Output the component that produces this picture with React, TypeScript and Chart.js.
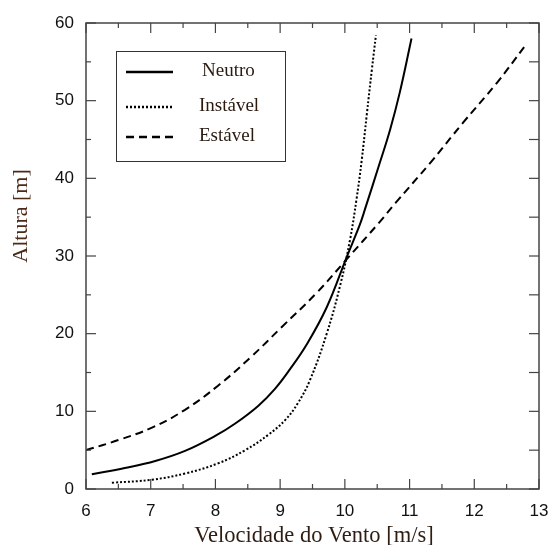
import React, { useEffect, useRef } from 'react';
import { Chart, registerables } from 'chart.js';

Chart.register(...registerables);

// ---- data ----
const seriesNames = ['Neutro', 'Instável', 'Estável'];

const neutroX = [6.09, 6.6, 7.07, 7.53, 7.99, 8.3, 8.66, 8.92, 9.15, 9.41, 9.72, 10.03, 10.23, 10.31, 10.54, 10.7, 10.85, 11.03];
const neutroY = [1.9, 2.7, 3.6, 4.9, 6.8, 8.4, 10.7, 12.9, 15.4, 18.6, 23.4, 29.9, 34.0, 36.0, 42.0, 46.3, 51.1, 58.0];

const instavelX = [6.4, 7.02, 7.53, 8.04, 8.46, 8.82, 9.08, 9.27, 9.46, 9.72, 9.93, 10.08, 10.18, 10.26, 10.34, 10.42, 10.48];
const instavelY = [0.8, 1.2, 2.0, 3.3, 5.0, 7.0, 8.9, 11.0, 14.0, 20.0, 26.3, 32.1, 37.3, 42.3, 48.3, 54.2, 58.4];

const estavelX = [6.0, 6.5, 7.02, 7.53, 8.04, 8.55, 9.03, 9.57, 10.03, 10.54, 10.78, 11.32, 11.83, 12.35, 12.77];
const estavelY = [5.0, 6.3, 7.9, 10.2, 13.3, 17.0, 20.9, 25.3, 29.6, 34.4, 36.8, 42.0, 47.2, 52.3, 56.9];

const xRange = [6, 13];
const yRange = [0, 60];
const xTitle = 'Velocidade do Vento [m/s]';
const yTitle = 'Altura [m]';

const toPts = (xs: number[], ys: number[]) => xs.map((v, i) => ({ x: v, y: ys[i] }));

const frameTicks = {
  id: 'frameTicks',
  afterDatasetsDraw(chart: any) {
    const { ctx, chartArea: a, scales } = chart;
    const x = scales.x;
    const y = scales.y;
    ctx.save();
    ctx.strokeStyle = '#444';
    ctx.lineWidth = 1.5;
    ctx.strokeRect(a.left, a.top, a.right - a.left, a.bottom - a.top);
    ctx.lineWidth = 1.2;
    const line = (x1: number, y1: number, x2: number, y2: number) => {
      ctx.beginPath();
      ctx.moveTo(x1, y1);
      ctx.lineTo(x2, y2);
      ctx.stroke();
    };
    for (let v = xRange[0]; v <= xRange[1] + 1e-9; v += 0.5) {
      const px = x.getPixelForValue(v);
      const major = Math.abs(v - Math.round(v)) < 1e-9;
      const len = major ? 10 : 5;
      line(px, a.bottom, px, a.bottom - len);
      line(px, a.top, px, a.top + len);
    }
    for (let v = yRange[0]; v <= yRange[1] + 1e-9; v += 5) {
      const py = y.getPixelForValue(v);
      const major = v % 10 === 0;
      line(a.left, py, a.left + (major ? 10 : 5), py);
      line(a.right, py, a.right - 10, py);
    }
    // axis titles
    ctx.fillStyle = '#2e1d12';
    ctx.font = '22.5px "Liberation Serif", "Times New Roman", serif';
    ctx.textAlign = 'center';
    ctx.textBaseline = 'alphabetic';
    ctx.fillText(xTitle, 314, 542);
    ctx.save();
    ctx.translate(27, 216);
    ctx.rotate(-Math.PI / 2);
    ctx.fillStyle = '#4b2a17';
    ctx.font = '22px "Liberation Serif", "Times New Roman", serif';
    ctx.fillText(yTitle, 0, 0);
    ctx.restore();
    ctx.restore();
  },
};

const boxLegend = {
  id: 'boxLegend',
  afterDatasetsDraw(chart: any) {
    const { ctx } = chart;
    ctx.save();
    ctx.fillStyle = '#fff';
    ctx.fillRect(116.5, 51.5, 169, 110);
    ctx.strokeStyle = '#333';
    ctx.lineWidth = 1;
    ctx.strokeRect(116.5, 51.5, 169, 110);
    const rows = [72, 107, 137];
    const textX = [202, 199, 199];
    chart.data.datasets.forEach((ds: any, i: number) => {
      const yy = rows[i];
      ctx.beginPath();
      ctx.strokeStyle = '#000';
      ctx.lineWidth = ds.borderWidth + 0.5;
      ctx.setLineDash(ds.borderDash || []);
      ctx.moveTo(126, yy);
      ctx.lineTo(173, yy);
      ctx.stroke();
      ctx.setLineDash([]);
      ctx.fillStyle = '#2a1a10';
      ctx.font = '19px "Liberation Serif", "Times New Roman", serif';
      ctx.textAlign = 'left';
      ctx.textBaseline = 'middle';
      ctx.fillText(ds.label, textX[i], yy - 1);
    });
    ctx.restore();
  },
};

export default function App() {
  const ref = useRef<HTMLCanvasElement | null>(null);
  useEffect(() => {
    document.body.style.margin = '0';
    const canvas = ref.current;
    if (!canvas) return;
    const chart = new Chart(canvas, {
      type: 'scatter',
      data: {
        datasets: [
          {
            label: seriesNames[0],
            data: toPts(neutroX, neutroY),
            showLine: true,
            borderColor: '#000',
            borderWidth: 2,
            pointRadius: 0,
            tension: 0.4,
          },
          {
            label: seriesNames[1],
            data: toPts(instavelX, instavelY),
            showLine: true,
            borderColor: '#000',
            borderWidth: 2,
            borderDash: [2, 2],
            pointRadius: 0,
            tension: 0.4,
          },
          {
            label: seriesNames[2],
            data: toPts(estavelX, estavelY),
            showLine: true,
            borderColor: '#000',
            borderWidth: 2,
            borderDash: [8, 5],
            pointRadius: 0,
            tension: 0.4,
          },
        ],
      } as any,
      options: {
        animation: false,
        responsive: false,
        maintainAspectRatio: false,
        layout: { padding: { top: 23, right: 0, left: 0, bottom: 0 } },
        plugins: { legend: { display: false }, tooltip: { enabled: false } },
        scales: {
          x: {
            type: 'linear',
            position: 'bottom',
            min: xRange[0],
            max: xRange[1],
            grid: { display: false, drawTicks: false },
            border: { display: false },
            ticks: {
              stepSize: 1,
              color: '#111',
              padding: 12,
              font: { family: '"Liberation Sans", Arial, sans-serif', size: 17 },
            },
            afterFit: (s: any) => {
              s.height = 56;
              s.paddingRight = 11;
              s.paddingLeft = 0;
            },
          },
          y: {
            type: 'linear',
            min: yRange[0],
            max: yRange[1],
            grid: { display: false, drawTicks: false },
            border: { display: false },
            ticks: {
              stepSize: 10,
              color: '#111',
              padding: 12,
              font: { family: '"Liberation Sans", Arial, sans-serif', size: 17 },
            },
            afterFit: (s: any) => {
              s.width = 86;
              s.paddingTop = 0;
              s.paddingBottom = 0;
            },
          },
        },
      } as any,
      plugins: [frameTicks, boxLegend],
    });
    return () => chart.destroy();
  }, []);
  return <canvas ref={ref} width={550} height={545} style={{ display: 'block' }} />;
}
